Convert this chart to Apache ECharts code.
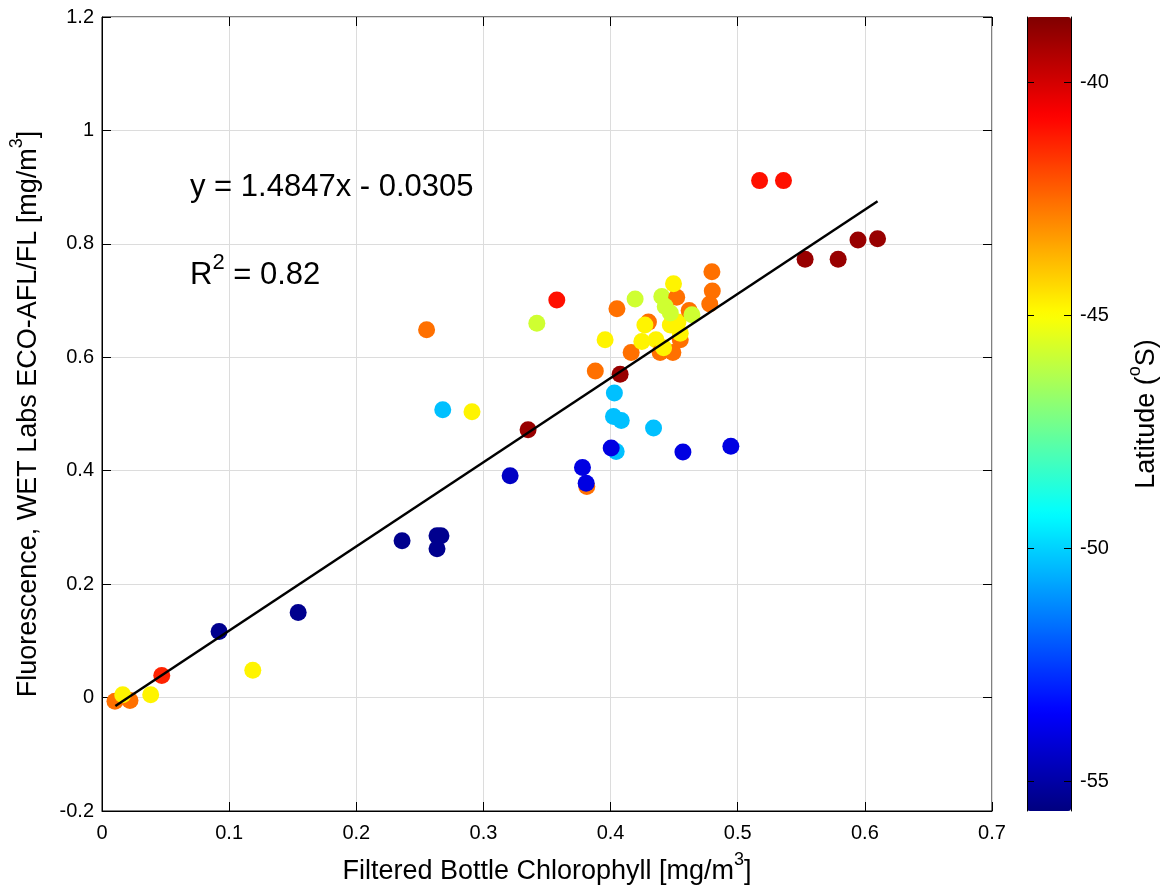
<!DOCTYPE html>
<html>
<head>
<meta charset="utf-8">
<script src="https://cdn.jsdelivr.net/npm/echarts@6/dist/echarts.min.js"></script>
<style>
  html, body { margin: 0; padding: 0; background: #fff; }
  #chart { width: 1164px; height: 890px; }
</style>
</head>
<body>
<div id="chart"></div>
<script>
// filtered bottle chlorophyll [mg/m3]
const chl = [
  0.0102, 0.0220, 0.0163, 0.0383, 0.0470, 0.1186, 0.0921, 0.1543,
  0.2360, 0.2635, 0.2666, 0.2635, 0.2680, 0.2910, 0.2553, 0.3210,
  0.3351, 0.3420, 0.3577, 0.3779, 0.3813, 0.3808, 0.3880, 0.3957,
  0.4075, 0.4030, 0.4023, 0.4084, 0.4338, 0.4044, 0.4005, 0.4569,
  0.4946, 0.4050, 0.4193, 0.4162, 0.4246, 0.4298, 0.4270, 0.4357,
  0.4390, 0.4490, 0.4417, 0.4548, 0.4470, 0.4548, 0.4530, 0.4403,
  0.4520, 0.4495, 0.4430, 0.4470, 0.4618, 0.4640, 0.4797, 0.4800,
  0.4780, 0.5172, 0.5360, 0.5530, 0.5790, 0.5946, 0.6100
];
// fluorescence, WET Labs ECO-AFL/FL [mg/m3]
const fluo = [
  -0.0065, -0.0050, 0.0050, 0.0050, 0.0388, 0.0480, 0.1163, 0.1498,
  0.2767, 0.2855, 0.2855, 0.2626, 0.5075, 0.5040, 0.6485, 0.3910,
  0.4722, 0.6600, 0.7010, 0.4058, 0.3723, 0.3780, 0.5760, 0.6310,
  0.5700, 0.5370, 0.4957, 0.4887, 0.4752, 0.4340, 0.4400, 0.4330,
  0.4430, 0.6855, 0.7026, 0.6085, 0.6280, 0.6620, 0.6570, 0.6310,
  0.6085, 0.6085, 0.6170, 0.6310, 0.6570, 0.6425, 0.6620, 0.7070,
  0.7060, 0.7295, 0.6895, 0.6780, 0.6825, 0.6750, 0.7510, 0.7170,
  0.6940, 0.9115, 0.9115, 0.7730, 0.7730, 0.8070, 0.8090
];
// latitude (degrees S, negative)
const lat = [
  -42.6, -42.6, -44.8, -44.8, -41.3, -44.8, -55.4, -55.4,
  -55.4, -55.4, -55.4, -55.4, -50.3, -44.8, -42.6, -54.5,
  -39.0, -45.8, -41.0, -54.0, -42.6, -54.0, -42.6, -44.8,
  -39.0, -50.3, -50.3, -50.3, -50.3, -50.3, -54.0, -54.0,
  -54.0, -42.6, -45.8, -42.6, -44.8, -42.6, -44.8, -44.8,
  -42.6, -42.6, -44.8, -42.6, -44.8, -44.8, -44.8, -45.8,
  -42.6, -44.8, -45.8, -45.8, -42.6, -45.8, -42.6, -42.6,
  -42.6, -41.0, -41.0, -39.0, -39.0, -39.0, -39.0
];
// fit line end points (y = 1.4847x - 0.0305)
const fitX = [0.0105, 0.6100];
const fitY = [-0.0150, 0.8750];

const latMin = -55.64;
const latMax = -38.6;
const latTicks = [-55, -50, -45, -40];
const jet = ['#000080', '#0000ff', '#0080ff', '#00ffff', '#80ff80',
             '#ffff00', '#ff8000', '#ff0000', '#800000'];

const font = 'Liberation Sans';
// superscript style for axis titles
const sup = { fontSize: 18, fontFamily: font, verticalAlign: 'top', lineHeight: 18, color: '#000' };
const titleStyle = { fontSize: 27, lineHeight: 41, fontFamily: font, color: '#000', rich: { s: sup } };

const chart = echarts.init(document.getElementById('chart'), null, { renderer: 'canvas' });

// axes that only draw the inward ticks on the top / right side of the box
const tickOnly = {
  axisLine: { show: false, onZero: false },
  axisTick: { show: true, inside: true, length: 9, lineStyle: { color: '#000' } },
  axisLabel: { show: false },
  splitLine: { show: false }
};

const option = {
  backgroundColor: '#fff',
  animation: false,
  textStyle: { fontFamily: font, color: '#000' },
  grid: [
    { left: 102, top: 17, width: 890, height: 794, show: true, borderColor: '#000', borderWidth: 1,
      containLabel: false, outerBoundsMode: 'none' },
    { left: 1027, top: 17, width: 44, height: 794, show: false,
      containLabel: false, outerBoundsMode: 'none' }
  ],
  xAxis: [
    {
      type: 'value', gridIndex: 0, min: 0, max: 0.7, interval: 0.1,
      name: 'Filtered Bottle Chlorophyll [mg/m{s|3}]',
      nameLocation: 'middle', nameGap: 40,
      nameTextStyle: titleStyle,
      axisLine: { onZero: false, lineStyle: { color: '#000', width: 1 } },
      axisTick: { inside: true, length: 9, lineStyle: { color: '#000' } },
      axisLabel: { fontSize: 20, color: '#000', margin: 12, fontFamily: font },
      splitLine: { lineStyle: { color: '#dcdcdc', width: 1 } }
    },
    Object.assign({ type: 'value', gridIndex: 0, position: 'top', min: 0, max: 0.7, interval: 0.1 }, tickOnly),
    { type: 'value', gridIndex: 1, show: false, min: 0, max: 1 }
  ],
  yAxis: [
    {
      type: 'value', gridIndex: 0, min: -0.2, max: 1.2, interval: 0.2,
      name: 'Fluorescence, WET Labs ECO-AFL/FL [mg/m{s|3}]',
      nameLocation: 'middle', nameGap: 42,
      nameTextStyle: titleStyle,
      axisLine: { show: true, onZero: false, lineStyle: { color: '#000', width: 1 } },
      axisTick: { show: true, inside: true, length: 9, lineStyle: { color: '#000' } },
      axisLabel: { fontSize: 20, color: '#000', margin: 8, fontFamily: font },
      splitLine: { lineStyle: { color: '#dcdcdc', width: 1 } }
    },
    Object.assign({ type: 'value', gridIndex: 0, position: 'right', min: -0.2, max: 1.2, interval: 0.2 }, tickOnly),
    {
      type: 'value', gridIndex: 1, position: 'right', min: latMin, max: latMax, z: 10,
      name: 'Latitude ({s|o}S)',
      nameLocation: 'middle', nameGap: 55,
      nameTextStyle: titleStyle,
      axisLine: { show: true, onZero: false, lineStyle: { color: '#000', width: 1 } },
      axisTick: { show: true, inside: true, length: 7, customValues: latTicks, lineStyle: { color: '#000' } },
      axisLabel: { fontSize: 20, color: '#000', margin: 9, fontFamily: font, customValues: latTicks },
      splitLine: { show: false }
    },
    {
      type: 'value', gridIndex: 1, position: 'left', min: latMin, max: latMax, z: 10,
      axisLine: { show: true, onZero: false, lineStyle: { color: '#000', width: 1 } },
      axisTick: { show: true, inside: true, length: 7, customValues: latTicks, lineStyle: { color: '#000' } },
      axisLabel: { show: false },
      splitLine: { show: false }
    }
  ],
  visualMap: {
    type: 'continuous',
    seriesIndex: 0,
    dimension: 2,
    min: latMin,
    max: latMax,
    calculable: false,
    hoverLink: false,
    text: null,
    left: 1027,
    top: 17,
    itemWidth: 44,
    itemHeight: 794,
    padding: 0,
    z: 1,
    inRange: { color: jet }
  },
  graphic: [
    {
      type: 'text', left: 190, top: 172, z: 20,
      style: { text: 'y = 1.4847x - 0.0305', font: '31px "Liberation Sans"', fill: '#000' }
    },
    {
      type: 'text', left: 190, top: 252, z: 20,
      style: {
        text: 'R{s|2} = 0.82', font: '31px "Liberation Sans"', fill: '#000', lineHeight: 46,
        rich: { s: { fontSize: 22, fontFamily: font, verticalAlign: 'top', lineHeight: 22 } }
      }
    }
  ],
  series: [
    {
      type: 'scatter',
      xAxisIndex: 0, yAxisIndex: 0,
      symbolSize: 17,
      data: chl.map((x, i) => [x, fluo[i], lat[i]]),
      itemStyle: { opacity: 1 },
      z: 2
    },
    {
      type: 'line',
      xAxisIndex: 0, yAxisIndex: 0,
      data: fitX.map((x, i) => [x, fitY[i]]),
      showSymbol: false,
      lineStyle: { color: '#000', width: 2.5 },
      z: 5
    }
  ]
};

chart.setOption(option);
</script>
</body>
</html>
